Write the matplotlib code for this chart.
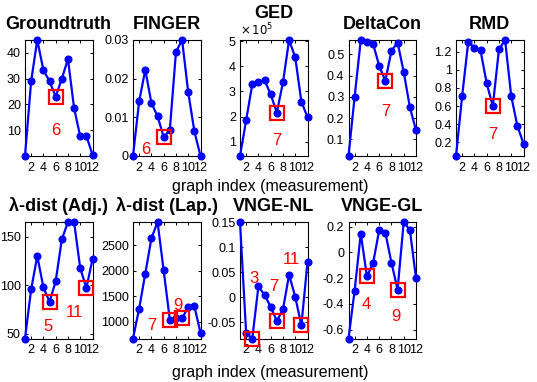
import matplotlib
matplotlib.use("Agg")
import matplotlib.pyplot as plt
from matplotlib.ticker import FuncFormatter

plt.rcParams['font.family'] = ['Liberation Sans', 'DejaVu Sans']
plt.rcParams['axes.unicode_minus'] = False

graph_index = list(range(1, 13))

groundtruth = [0, 29, 45, 33.3, 29, 23, 30, 37.6, 18.6, 7.6, 7.8, 0.5]
finger = [0, 0.0141, 0.0223, 0.0137, 0.0103, 0.0049, 0.0067, 0.0269, 0.0300, 0.0165, 0.0064, 0]
ged = [0.43e5, 1.85e5, 3.29e5, 3.37e5, 3.45e5, 2.88e5, 2.16e5, 3.36e5, 5.05e5, 4.36e5, 2.60e5, 1.97e5]
deltacon = [0.021, 0.30, 0.568, 0.558, 0.55, 0.447, 0.375, 0.517, 0.556, 0.417, 0.251, 0.142]
rmd = [0.048, 0.71, 1.31, 1.245, 1.215, 0.85, 0.60, 1.226, 1.33, 0.71, 0.38, 0.185]
lam_adj = [45, 95.5, 130, 97.6, 82.8, 104, 147, 165, 165, 117.5, 97, 126.6]
lam_lap = [671, 1252, 1940, 2629, 2950, 2003, 1039, 1075, 1065, 1284, 1303, 780]
vnge_nl = [0.150, -0.071, -0.082, 0.0216, 0.005, -0.019, -0.047, -0.024, 0.045, 0.001, -0.056, 0.070]
vnge_gl = [-0.67, -0.297, 0.147, -0.186, -0.085, 0.173, 0.155, -0.08, -0.289, 0.237, 0.175, -0.199]

titles = ['Groundtruth', 'FINGER', 'GED', 'DeltaCon', 'RMD',
          'λ-dist (Adj.)', 'λ-dist (Lap.)', 'VNGE-NL', 'VNGE-GL']
series = [groundtruth, finger, ged, deltacon, rmd, lam_adj, lam_lap, vnge_nl, vnge_gl]
selected = [[6], [6], [7], [7], [7], [5, 11], [7, 9], [3, 7, 11], [4, 9]]
yticks = [
    [10, 20, 30, 40],
    [0, 0.01, 0.02, 0.03],
    [1e5, 2e5, 3e5, 4e5, 5e5],
    [0.1, 0.2, 0.3, 0.4, 0.5],
    [0.2, 0.4, 0.6, 0.8, 1.0, 1.2],
    [50, 100, 150],
    [1000, 1500, 2000, 2500],
    [-0.05, 0, 0.05, 0.1, 0.15],
    [-0.6, -0.4, -0.2, 0, 0.2],
]
xticks = [2, 4, 6, 8, 10, 12]
xlabel_text = 'graph index (measurement)'

# red annotation (x, y, text) per panel
annotations = [
    [(6, 10, '6')],
    [(3.1, 0.0017, '6')],
    [(7, 1.03e5, '7')],
    [(7, 0.232, '7')],
    [(7, 0.29, '7')],
    [(4.75, 57, '5'), (9.1, 72, '11')],
    [(4.0, 923, '7'), (8.3, 1316, '9')],
    [(3.25, 0.0365, '3'), (6.55, 0.0216, '7'), (9.4, 0.0757, '11')],
    [(3.85, -0.408, '4'), (8.8, -0.498, '9')],
]

W, H = 537, 382
fig = plt.figure(figsize=(W / 100, H / 100), dpi=100)

col_left = [25, 133, 240, 348.5, 456]
ax_w = 67.5
rows = [(40, 156), (222, 338.5)]

BLUE = (0, 0, 1)
RED = (1, 0, 0)

for i, (title, y) in enumerate(zip(titles, series)):
    r, c = divmod(i, 5)
    top, bot = rows[r]
    ax = fig.add_axes([col_left[c] / W, 1 - bot / H, ax_w / W, (bot - top) / H])
    ax.plot(graph_index, y, '-o', color=BLUE, lw=1.6, ms=4.8, mfc=BLUE, mec=BLUE,
            zorder=3, clip_on=False)
    for s in selected[i]:
        ax.plot([s], [y[s - 1]], 's', ms=9.5, mfc='none', mec=RED, mew=1.6,
                zorder=4, clip_on=False)
    for (ax_x, ax_y, t) in annotations[i]:
        ax.text(ax_x, ax_y, t, color=RED, fontsize=12, ha='center', va='center', zorder=5)
    ax.set_xlim(1, 12)
    ax.set_ylim(min(y), max(y))
    ax.set_xticks(xticks)
    ax.set_yticks(yticks[i])
    if title == 'GED':
        ax.yaxis.set_major_formatter(FuncFormatter(lambda v, p: '%g' % (v / 1e5)))
        ax.text(0.0, 1.015, r'$\times\,10^{5}$', transform=ax.transAxes,
                ha='left', va='bottom', fontsize=8.5)
        pad = 15.5
    else:
        ax.yaxis.set_major_formatter(FuncFormatter(lambda v, p: '%g' % round(v, 6)))
        pad = 7.8
    ax.tick_params(direction='in', top=True, right=True, length=2.5, width=0.7,
                   labelsize=9, pad=3)
    ax.tick_params(axis='x', pad=4)
    for sp in ax.spines.values():
        sp.set_linewidth(0.8)
        sp.set_zorder(2)
    ax.set_title(title, fontsize=13, fontweight='bold', pad=pad)

fig.text(270 / W, 1 - 187 / H, xlabel_text, ha='center', va='center', fontsize=11.5)
fig.text(270 / W, 1 - 372 / H, xlabel_text, ha='center', va='center', fontsize=11.5)

fig.savefig('out.png', dpi=100)
